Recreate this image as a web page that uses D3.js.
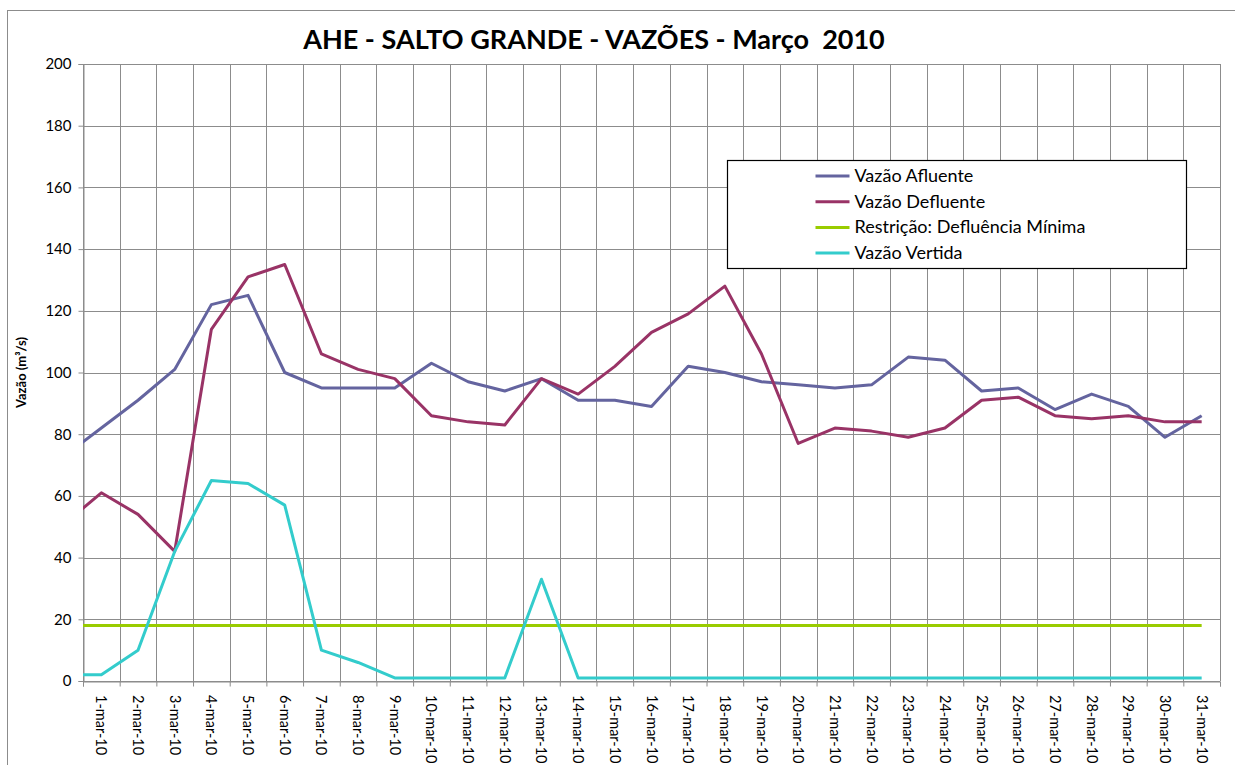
<!DOCTYPE html>
<html>
<head>
<meta charset="utf-8">
<script src="https://cdn.jsdelivr.net/npm/d3@7"></script>
<style>
  body { margin: 0; background: #fff; }
  svg { display: block; font-family: Lato, "Open Sans", sans-serif; }
</style>
</head>
<body>
<div id="chart"></div>
<script>
  // Dias (0 = 28-fev, fica fora da área do gráfico)
  var days = d3.range(0, 32);
  var dayLabels = d3.range(1, 32).map(function(d) { return d + '-mar-10'; });
  var yTicks = [0, 20, 40, 60, 80, 100, 120, 140, 160, 180, 200];

  var afluente = [73, 82, 91, 101, 122, 125, 100, 95, 95, 95, 103, 97, 94, 98, 91, 91, 89,
                  102, 100, 97, 96, 95, 96, 105, 104, 94, 95, 88, 93, 89, 79, 86];
  var defluente = [51, 61, 54, 42, 114, 131, 135, 106, 101, 98, 86, 84, 83, 98, 93, 102, 113,
                   119, 128, 106, 77, 82, 81, 79, 82, 91, 92, 86, 85, 86, 84, 84];
  var restricao = [18, 18, 18, 18, 18, 18, 18, 18, 18, 18, 18, 18, 18, 18, 18, 18, 18,
                   18, 18, 18, 18, 18, 18, 18, 18, 18, 18, 18, 18, 18, 18, 18];
  var vertida = [2, 2, 10, 42, 65, 64, 57, 10, 6, 1, 1, 1, 1, 33, 1, 1, 1,
                 1, 1, 1, 1, 1, 1, 1, 1, 1, 1, 1, 1, 1, 1, 1];

  var seriesNames = ['Vazão Afluente', 'Vazão Defluente', 'Restrição: Defluência Mínima', 'Vazão Vertida'];
  var seriesColors = ['#64649f', '#993366', '#99cc00', '#33cccc'];
  var seriesValues = [afluente, defluente, restricao, vertida];

  var W = 1235, H = 765;
  var plot = { left: 83, right: 1220, top: 64, bottom: 681 };

  var svg = d3.select('#chart').append('svg')
    .attr('width', W)
    .attr('height', H);

  // Chart frame
  svg.append('rect')
    .attr('x', 7.5).attr('y', 10.5)
    .attr('width', 1240).attr('height', 800)
    .attr('fill', '#fff')
    .attr('stroke', '#8c8c8c');

  var x = d3.scaleLinear()
    .domain([0.5, 31.5])
    .range([plot.left, plot.right]);

  var y = d3.scaleLinear()
    .domain([0, 200])
    .range([plot.bottom, plot.top]);

  // Gridlines
  var grid = svg.append('g').attr('class', 'grid');
  grid.selectAll('line.h')
    .data(yTicks)
    .enter().append('line')
    .attr('class', 'h')
    .attr('x1', plot.left).attr('x2', plot.right)
    .attr('y1', function(d) { return Math.round(y(d)) + 0.5; })
    .attr('y2', function(d) { return Math.round(y(d)) + 0.5; })
    .attr('stroke', '#8c8c8c');

  grid.selectAll('line.v')
    .data(d3.range(0.5, 32.5, 1))
    .enter().append('line')
    .attr('class', 'v')
    .attr('x1', function(d) { return Math.round(x(d)) + 0.5; })
    .attr('x2', function(d) { return Math.round(x(d)) + 0.5; })
    .attr('y1', plot.top).attr('y2', plot.bottom)
    .attr('stroke', '#8c8c8c');

  // Y axis
  var yAxis = svg.append('g')
    .attr('transform', 'translate(' + (plot.left + 0.5) + ',0)')
    .call(d3.axisLeft(y).tickValues(yTicks).tickSize(5).tickPadding(7));
  yAxis.select('.domain').attr('stroke', '#8c8c8c');
  yAxis.selectAll('.tick line').attr('stroke', '#8c8c8c');
  yAxis.selectAll('.tick text')
    .attr('font-family', 'Lato, sans-serif')
    .attr('font-size', 15)
    .attr('fill', '#000');

  // X axis
  var xAxis = svg.append('g')
    .attr('transform', 'translate(0,' + (plot.bottom + 0.5) + ')')
    .call(d3.axisBottom(x).tickValues(d3.range(0.5, 32.5, 1)).tickSize(5).tickFormat(''));
  xAxis.select('.domain').attr('stroke', '#8c8c8c');
  xAxis.selectAll('.tick line').attr('stroke', '#8c8c8c');

  svg.append('g')
    .selectAll('text')
    .data(dayLabels)
    .enter().append('text')
    .attr('transform', function(d, i) {
      return 'translate(' + (x(i + 1) - 5) + ',' + (plot.bottom + 14) + ') rotate(90)';
    })
    .attr('font-size', 14.5)
    .attr('fill', '#000')
    .text(function(d) { return d; });

  // Y axis title
  svg.append('text')
    .attr('transform', 'translate(26,' + ((plot.top + plot.bottom) / 2) + ') rotate(-90)')
    .attr('text-anchor', 'middle')
    .attr('font-size', 13)
    .attr('font-weight', 'bold')
    .text('Vazão (m³/s)');

  // Title
  svg.append('text')
    .attr('x', 594).attr('y', 49)
    .attr('text-anchor', 'middle')
    .attr('font-size', 27)
    .attr('font-weight', 'bold')
    .attr('xml:space', 'preserve')
    .text('AHE - SALTO GRANDE - VAZÕES - Março  2010');

  // Lines
  svg.append('clipPath').attr('id', 'clip')
    .append('rect')
    .attr('x', plot.left).attr('y', plot.top)
    .attr('width', plot.right - plot.left).attr('height', plot.bottom - plot.top);

  var line = d3.line()
    .x(function(d, i) { return x(days[i]); })
    .y(function(d) { return y(d); });

  svg.append('g')
    .attr('clip-path', 'url(#clip)')
    .selectAll('path')
    .data(seriesValues)
    .enter().append('path')
    .attr('d', function(d) { return line(d); })
    .attr('fill', 'none')
    .attr('stroke', function(d, i) { return seriesColors[i]; })
    .attr('stroke-width', 3)
    .attr('stroke-linejoin', 'round');

  // Legend
  var legend = svg.append('g').attr('transform', 'translate(727.5,160.5)');
  legend.append('rect')
    .attr('width', 459).attr('height', 108)
    .attr('fill', '#fff')
    .attr('stroke', '#000')
    .attr('stroke-width', 1.2);

  var item = legend.selectAll('g.item')
    .data(seriesNames)
    .enter().append('g')
    .attr('class', 'item')
    .attr('transform', function(d, i) { return 'translate(0,' + (15.5 + i * 25.7) + ')'; });
  item.append('line')
    .attr('x1', 88).attr('x2', 122)
    .attr('stroke', function(d, i) { return seriesColors[i]; })
    .attr('stroke-width', 3);
  item.append('text')
    .attr('x', 127).attr('y', 6)
    .attr('font-size', 18)
    .attr('fill', '#000')
    .text(function(d) { return d; });
</script>
</body>
</html>
